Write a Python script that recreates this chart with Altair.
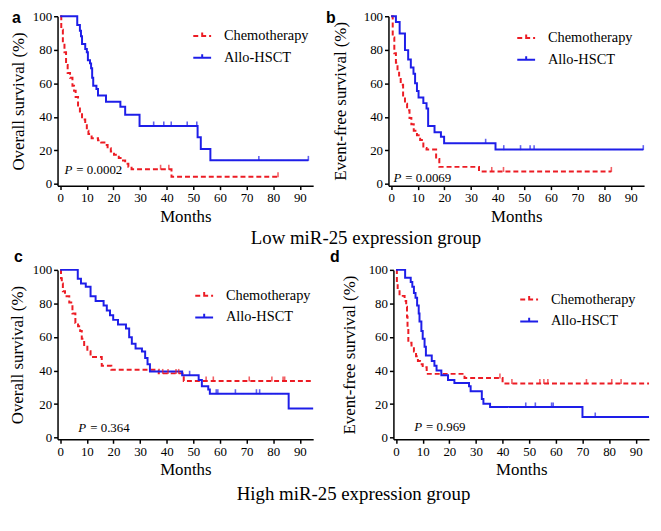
import altair as alt
import pandas as pd

GROUPS = ["Chemotherapy", "Allo-HSCT"]
RED = "#ec1c24"
BLUE = "#1e1ee8"
SERIF = "Liberation Serif"
SANS = "Liberation Sans"

# ---------------- Panel a : Low miR-25, overall survival ----------------
a_chemo_t = [0, 0.4, 1.0, 1.6, 2.2, 2.8, 3.7, 4.6, 5.2, 5.8, 6.7, 7.4, 8.2, 9.4, 10.0, 10.6, 11.8, 14.2,
             15.4, 16.6, 17.8, 19.0, 20.2, 22.0, 23.2, 24.4, 25.6, 26.8, 41.8, 81.8]
a_chemo_s = [100, 92, 84.3, 78.6, 70.9, 66.1, 63.3, 58.5, 55.6, 51.8, 46.1, 42.2, 38.4, 35.6, 31.7, 29.8, 27.3, 26.0,
             24.7, 23.2, 21.3, 19.3, 17.4, 15.5, 14.0, 12.0, 10.3, 8.8, 4.3, 4.3]
a_chemo_cens_t = [37.7, 40.8, 81.8]
a_chemo_cens_s = [8.8, 8.8, 4.3]
a_allo_t = [0, 6.4, 7.4, 7.8, 8.2, 9.4, 10.0, 10.4, 11.2, 11.6, 12.0, 12.4, 13.6, 14.2, 17.2, 22.6, 24.4, 29.8,
            51.6, 52.8, 56.4, 93.2]
a_allo_s = [100, 94.8, 91.4, 88.1, 83.4, 80.5, 78.6, 73.8, 71.9, 69.0, 63.3, 58.5, 56.6, 52.8, 49.0, 46.1, 41.3, 34.6,
            27.9, 20.8, 14.1, 14.1]
a_allo_cens_t = [35.1, 38.9, 41.7, 47.7, 51.3, 74.6, 93.2]
a_allo_cens_s = [34.6, 34.6, 34.6, 34.6, 34.6, 14.1, 14.1]

# ---------------- Panel b : Low miR-25, event-free survival ----------------
b_chemo_t = [0, 0.6, 1.2, 1.8, 2.4, 3.0, 3.6, 4.5, 5.2, 6.0, 6.9, 7.6, 8.5, 9.7, 10.9, 12.1, 13.3, 16.9,
             18.1, 33.0, 82.7]
b_chemo_s = [100, 87.4, 78.0, 72.3, 67.6, 63.8, 59.1, 51.6, 47.8, 44.0, 39.4, 35.6, 31.8, 29.0, 26.2, 21.5, 20.5, 14.9,
             10.2, 7.5, 7.5]
b_chemo_cens_t = [37.8, 42.2, 82.7]
b_chemo_cens_s = [7.5, 7.5, 7.5]
b_allo_t = [0, 1.8, 3.2, 5.2, 6.4, 7.4, 8.4, 9.0, 9.7, 10.3, 12.1, 13.3, 13.9, 16.3, 18.7, 19.9, 39.2, 94.7]
b_allo_s = [100, 96.6, 89.7, 79.8, 74.2, 69.5, 65.7, 60.0, 55.4, 51.6, 48.2, 45.0, 34.6, 30.9, 28.1, 24.3, 20.5, 20.5]
b_allo_cens_t = [35.5, 42.3, 48.6, 52.2, 53.7, 94.7]
b_allo_cens_s = [24.3, 20.5, 20.5, 20.5, 20.5, 20.5]

# ---------------- Panel c : High miR-25, overall survival ----------------
c_chemo_t = [0, 0.3, 0.6, 1.0, 1.8, 3.4, 4.6, 5.7, 6.7, 7.5, 8.1, 9.0, 10.2, 11.4, 15.6, 19.2, 37.0, 46.4, 94.5]
c_chemo_s = [100, 95, 91.9, 87.2, 84.3, 80.6, 74.0, 68.3, 66.4, 63.6, 58.9, 54.2, 51.5, 48.1, 42.8, 40.4, 38.3, 33.8, 33.8]
c_chemo_cens_t = [38.5, 40.5, 43.5, 44.5, 54.8, 57.5, 71.0, 79.5, 83.7, 84.3]
c_chemo_cens_s = [38.3, 38.3, 38.3, 38.3, 33.8, 33.8, 33.8, 33.8, 33.8, 33.8]
c_allo_t = [0, 6.6, 7.8, 9.6, 11.4, 13.3, 16.3, 17.5, 18.7, 19.9, 21.7, 24.7, 25.9, 26.9, 28.3, 30.7, 31.9, 32.8,
            33.7, 45.8, 52.0, 53.2, 55.6, 56.2, 85.8, 95.0]
c_allo_s = [100, 94.7, 91.9, 90.0, 84.3, 81.5, 78.7, 75.8, 73.0, 70.2, 67.4, 65.1, 59.8, 56.0, 53.2, 51.3, 47.5, 43.8,
            39.4, 37.2, 34.3, 30.6, 28.7, 26.2, 17.4, 17.4]
c_allo_cens_t = [48.6, 58.6, 59.2, 65.8, 73.7, 74.9]
c_allo_cens_s = [37.2, 26.2, 26.2, 26.2, 26.2, 26.2]

# ---------------- Panel d : High miR-25, event-free survival ----------------
d_chemo_t = [0, 0.3, 0.6, 1.3, 3.2, 3.8, 4.1, 4.3, 4.6, 5.8, 6.7, 7.5, 8.2, 9.0, 10.0, 11.5, 25.7, 40.0, 95.0]
d_chemo_s = [100, 92, 88, 84.5, 81.5, 78, 72, 66, 56.5, 54.2, 51.3, 48.5, 45.7, 43.8, 41.9, 38.0, 35.5, 32.3, 32.3]
d_chemo_cens_t = [39.0, 43.5, 54.0, 55.5, 57.0, 71.5, 81.0, 84.5]
d_chemo_cens_s = [35.5, 32.3, 32.3, 32.3, 32.3, 32.3, 32.3, 32.3]
d_allo_t = [0, 3.4, 5.5, 6.1, 6.7, 7.3, 7.9, 8.5, 8.8, 9.5, 10.0, 10.7, 11.2, 13.4, 14.4, 15.2, 17.0, 19.5, 21.9,
            27.4, 28.0, 32.2, 32.8, 35.3, 70.0, 95.0]
d_allo_s = [100, 95.3, 92.8, 90.0, 86.2, 83.4, 78.7, 74.0, 69.2, 63.6, 58.9, 54.2, 48.9, 45.7, 42.8, 40.0, 37.2, 34.3,
            32.5, 30.6, 27.7, 23.0, 20.2, 18.3, 12.3, 12.3]
d_allo_cens_t = [48.7, 52.3, 58.4, 59.0, 74.8]
d_allo_cens_s = [18.3, 18.3, 18.3, 18.3, 12.3]

x_ticks = [0, 10, 20, 30, 40, 50, 60, 70, 80, 90]
y_ticks = [0, 20, 40, 60, 80, 100]

W, H = 258, 171


def panel(letter, ytitle, chemo, allo, chemo_c, allo_c, pval, lay):
    df = pd.DataFrame({
        "t": chemo[0] + allo[0],
        "s": chemo[1] + allo[1],
        "group": [GROUPS[0]] * len(chemo[0]) + [GROUPS[1]] * len(allo[0]),
    })
    xs = alt.Scale(domain=[-1, 95], nice=False, zero=False)
    ys = alt.Scale(domain=[-1, 100], nice=False, zero=False)
    leg = alt.Legend(orient="none", legendX=lay["legx"], legendY=lay["legy"],
                     symbolType="M-1,0H1M0,0V-0.4", symbolSize=324, symbolStrokeWidth=2,
                     labelFont=SERIF, labelFontSize=14.5, labelColor="black",
                     labelOffset=12, rowPadding=5)
    x_axis = alt.Axis(values=x_ticks, title="Months", titleFont=SERIF, titleFontSize=17,
                      titleFontWeight="normal", titleColor="black", titlePadding=4,
                      labelFont=SERIF, labelFontSize=13, labelColor="black", labelPadding=2,
                      domainColor="black", domainWidth=1.5, tickColor="black", tickWidth=1.5,
                      tickSize=4, grid=False, labelFlush=False, labelOverlap=False)
    y_axis = alt.Axis(values=y_ticks, title=ytitle, titleFont=SERIF, titleFontSize=17,
                      titleFontWeight="normal", titleColor="black", titlePadding=lay["tp"],
                      labelFont=SERIF, labelFontSize=13, labelColor="black", labelPadding=2,
                      domainColor="black", domainWidth=1.5, tickColor="black", tickWidth=1.5,
                      tickSize=4, grid=False, labelFlush=False, labelOverlap=False)
    lines = alt.Chart(df).mark_line(interpolate="step-after", strokeWidth=2).encode(
        x=alt.X("t:Q", scale=xs, axis=x_axis),
        y=alt.Y("s:Q", scale=ys, axis=y_axis),
        color=alt.Color("group:N", title=None,
                        scale=alt.Scale(domain=GROUPS, range=[RED, BLUE]), legend=leg),
        strokeDash=alt.StrokeDash("group:N", title=None,
                                  scale=alt.Scale(domain=GROUPS, range=[[5, 3], [1, 0]]), legend=leg),
    )
    cdf = pd.DataFrame({"t": chemo_c[0], "s": chemo_c[1]})
    adf = pd.DataFrame({"t": allo_c[0], "s": allo_c[1]})
    tick_c = alt.Chart(cdf).mark_tick(orient="vertical", color=RED, size=5, thickness=1.6, yOffset=-2).encode(
        x=alt.X("t:Q", scale=xs, axis=x_axis), y=alt.Y("s:Q", scale=ys, axis=y_axis))
    tick_a = alt.Chart(adf).mark_tick(orient="vertical", color=BLUE, size=5, thickness=1.6, yOffset=-2).encode(
        x=alt.X("t:Q", scale=xs, axis=x_axis), y=alt.Y("s:Q", scale=ys, axis=y_axis))
    lab = alt.Chart(pd.DataFrame({"txt": [letter]})).mark_text(
        font=SANS, fontSize=16, fontWeight="bold", align="left", baseline="middle", color="black"
    ).encode(text="txt:N", x=alt.value(lay["lx"]), y=alt.value(lay["ly"]))
    p1 = alt.Chart(pd.DataFrame({"txt": ["P"]})).mark_text(
        font=SERIF, fontSize=13, fontStyle="italic", align="left", baseline="middle", color="black"
    ).encode(text="txt:N", x=alt.value(lay["px"]), y=alt.value(lay["py"]))
    p2 = alt.Chart(pd.DataFrame({"txt": ["= " + pval]})).mark_text(
        font=SERIF, fontSize=13, align="left", baseline="middle", color="black"
    ).encode(text="txt:N", x=alt.value(lay["px"] + 12), y=alt.value(lay["py"]))
    return alt.layer(lines, tick_c, tick_a, lab, p1, p2).properties(width=W, height=H)


pa = panel("a", "Overall survival (%)", (a_chemo_t, a_chemo_s), (a_allo_t, a_allo_s),
           (a_chemo_cens_t, a_chemo_cens_s), (a_allo_cens_t, a_allo_cens_s), "0.0002",
           dict(legx=136, legy=10, tp=5, lx=-46, ly=2, px=7, py=155))
pb = panel("b", "Event-free survival (%)", (b_chemo_t, b_chemo_s), (b_allo_t, b_allo_s),
           (b_chemo_cens_t, b_chemo_cens_s), (b_allo_cens_t, b_allo_cens_s), "0.0069",
           dict(legx=129, legy=12, tp=14, lx=-63, ly=2, px=5, py=163))
pc = panel("c", "Overall survival (%)", (c_chemo_t, c_chemo_s), (c_allo_t, c_allo_s),
           (c_chemo_cens_t, c_chemo_cens_s), (c_allo_cens_t, c_allo_cens_s), "0.364",
           dict(legx=138, legy=16, tp=6, lx=-44, ly=-13, px=21, py=160))
pd_ = panel("d", "Event-free survival (%)", (d_chemo_t, d_chemo_s), (d_allo_t, d_allo_s),
            (d_chemo_cens_t, d_chemo_cens_s), (d_allo_cens_t, d_allo_cens_s), "0.969",
            dict(legx=127, legy=20, tp=10, lx=-64, ly=-13, px=21, py=159))


def row(left, right, title, dx, off):
    return alt.hconcat(
        left, right, spacing=13,
        title=alt.TitleParams(title, orient="bottom", anchor="middle", font=SERIF, fontSize=19,
                              fontWeight="normal", color="black", offset=off, dx=dx),
    ).resolve_scale(color="independent", strokeDash="independent", x="independent", y="independent"
                    ).resolve_legend(color="independent", strokeDash="independent")


chart = alt.vconcat(
    row(pa, pb, "Low miR-25 expression group", 38, 5),
    row(pc, pd_, "High miR-25 expression group", 23, 7),
    spacing=1,
).resolve_scale(color="independent", strokeDash="independent", x="independent", y="independent"
                ).resolve_legend(color="independent", strokeDash="independent"
                                 ).properties(padding=0, background="white"
                                              ).configure_view(stroke=None
                                                               ).configure_axis(labelFont=SERIF, titleFont=SERIF,
                                                                                labelFontSize=13, titleFontSize=17)

chart.save("out.html", embed_options={"renderer": "svg", "actions": False})
